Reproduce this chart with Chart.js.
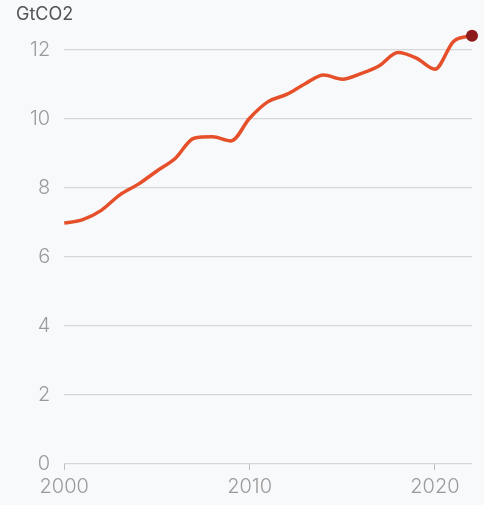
<!DOCTYPE html>
<html>
<head>
<meta charset="utf-8">
<script src="https://cdn.jsdelivr.net/npm/chart.js@4.4.1/dist/chart.umd.min.js"></script>
<style>
  html, body { margin: 0; padding: 0; background: #f8f9fb; }
  #wrap { width: 484px; height: 505px; position: relative; }
</style>
</head>
<body>
<div id="wrap"><canvas id="grafico"></canvas></div>
<script>
// dados
const years = [2000, 2001, 2002, 2003, 2004, 2005, 2006, 2007, 2008, 2009, 2010,
  2011, 2012, 2013, 2014, 2015, 2016, 2017, 2018, 2019, 2020, 2021, 2022];
const emissions = [6.98, 7.08, 7.35, 7.8, 8.11, 8.49, 8.86, 9.44, 9.48, 9.36, 10.02,
  10.5, 10.71, 11.02, 11.27, 11.15, 11.31, 11.54, 11.92, 11.76, 11.44, 12.24, 12.41];
const yTicks = [0, 2, 4, 6, 8, 10, 12];
const xTicks = [2000, 2010, 2020];
const unitLabel = 'GtCO2';

const lineColor = '#e5502a';
const dotColor = '#8e1b1b';

const points = years.map((y, i) => ({ x: y, y: emissions[i] }));
const last = points.length - 1;

const ctx = document.getElementById('grafico').getContext('2d');

new Chart(ctx, {
  type: 'line',
  data: {
    datasets: [{
      data: points,
      borderColor: lineColor,
      borderWidth: 3.5,
      cubicInterpolationMode: 'monotone',
      pointRadius: points.map((p, i) => i === last ? 6 : 0),
      pointBackgroundColor: dotColor,
      pointBorderWidth: 0,
      clip: false
    }]
  },
  options: {
    responsive: true,
    maintainAspectRatio: false,
    animation: false,
    layout: { padding: { left: 16, right: 12, top: 4, bottom: 1 } },
    plugins: {
      legend: { display: false },
      tooltip: { enabled: false },
      title: {
        display: true,
        text: unitLabel,
        align: 'start',
        color: '#555',
        font: { family: 'Inter', size: 18, weight: '400' },
        padding: { top: 0, bottom: 7 }
      }
    },
    scales: {
      x: {
        type: 'linear',
        min: years[0],
        max: years[last],
        afterBuildTicks: axis => { axis.ticks = xTicks.map(v => ({ value: v })); },
        ticks: {
          color: '#9a9a9a',
          font: { family: 'Inter', size: 20, weight: '300' },
          padding: 5,
          maxRotation: 0,
          callback: v => String(v)
        },
        grid: { drawOnChartArea: false, drawTicks: true, tickLength: 6, color: '#bdbdbd' },
        border: { display: false }
      },
      y: {
        min: 0,
        max: 12.5,
        afterBuildTicks: axis => { axis.ticks = yTicks.map(v => ({ value: v })); },
        ticks: {
          color: '#9a9a9a',
          font: { family: 'Inter', size: 20, weight: '300' },
          padding: 14
        },
        grid: { color: '#d6d6d6', lineWidth: 1.2, drawTicks: false },
        border: { display: false }
      }
    }
  }
});
</script>
</body>
</html>
